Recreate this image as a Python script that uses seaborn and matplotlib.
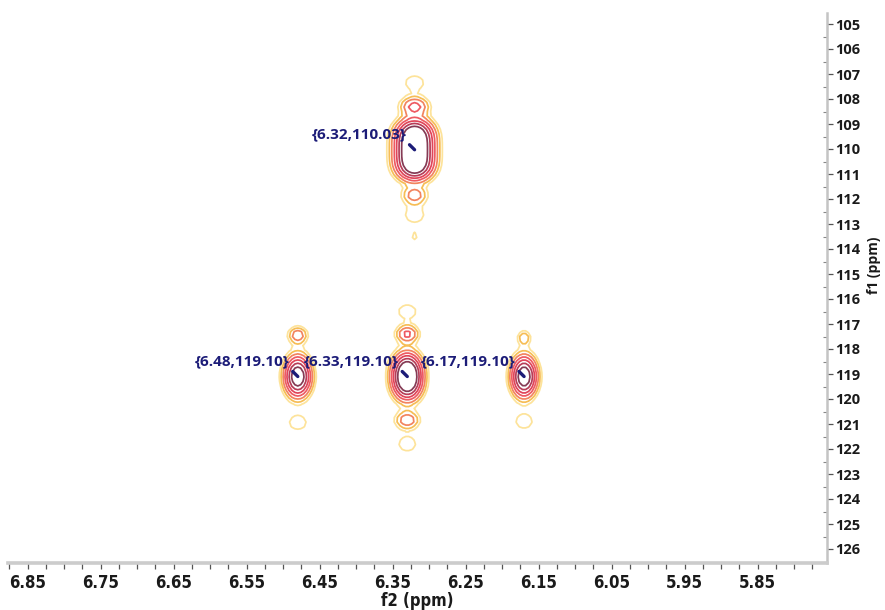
import numpy as np
import pandas as pd
import matplotlib
matplotlib.use("Agg")
import matplotlib.pyplot as plt
from matplotlib import font_manager as fm
from matplotlib.ticker import MultipleLocator, FixedLocator
import seaborn as sns

# ---------------- data ----------------
# main cross peaks (f2 ppm, f1 ppm), relative intensity, widths (ppm), line-shape exponents
peak_f2 = [6.32, 6.48, 6.33, 6.17]
peak_f1 = [110.03, 119.10, 119.10, 119.10]
peak_amp = [1.4, 1.0, 1.3, 1.0]
peak_wx = [0.0158, 0.0112, 0.0125, 0.0108]
peak_wy = [0.88, 0.5, 0.57, 0.5]
peak_px = [2.0, 2.0, 2.0, 2.0]
peak_py = [3.5, 2.0, 2.2, 2.0]
peak_labels = ["{6.32,110.03}", "{6.48,119.10}", "{6.33,119.10}", "{6.17,119.10}"]

# t1-noise satellites above / below each cross peak
sat_f2 = [6.32, 6.32, 6.32, 6.32, 6.32,
          6.48, 6.48,
          6.33, 6.33, 6.33, 6.33,
          6.17, 6.17]
sat_f1 = [108.3, 107.35, 111.85, 112.65, 113.5,
          117.45, 120.95,
          117.4, 116.5, 120.85, 121.8,
          117.55, 120.9]
sat_amp = [0.36, 0.12, 0.26, 0.12, 0.1,
           0.28, 0.12,
           0.34, 0.12, 0.28, 0.12,
           0.2, 0.12]
sat_wx = [0.013, 0.0135, 0.012, 0.0135, 0.005,
          0.009, 0.0125,
          0.0105, 0.013, 0.0115, 0.0125,
          0.0065, 0.012]
sat_wy = [0.25, 0.3, 0.25, 0.3, 0.2,
          0.23, 0.29,
          0.23, 0.29, 0.24, 0.3,
          0.2, 0.29]

levels = [0.08, 0.13, 0.2, 0.3, 0.42, 0.57, 0.75]
level_colors = ["#fde39a", "#f6bd55", "#f2845f", "#ee5a62", "#e04559",
                "#b73d58", "#853b55"]

x_ticks = [6.85, 6.75, 6.65, 6.55, 6.45, 6.35, 6.25, 6.15, 6.05, 5.95, 5.85]
y_ticks = list(range(105, 127))

# ---------------- build the 2D spectrum ----------------
main = pd.DataFrame({"f2": peak_f2, "f1": peak_f1, "amp": peak_amp,
                     "wx": peak_wx, "wy": peak_wy, "px": peak_px, "py": peak_py})
sats = pd.DataFrame({"f2": sat_f2, "f1": sat_f1, "amp": sat_amp,
                     "wx": sat_wx, "wy": sat_wy})
sats["px"] = 2.0
sats["py"] = 2.0
peaks = pd.concat([main, sats], ignore_index=True)

g2 = np.arange(5.70, 6.90, 0.004)
g1 = np.arange(104.0, 127.0, 0.18)
F2, F1 = np.meshgrid(g2, g1)
Z = np.zeros_like(F2)
for _, p in peaks.iterrows():
    Z += p.amp * np.exp(-0.5 * (np.abs((F2 - p.f2) / p.wx) ** p.px
                                + np.abs((F1 - p.f1) / p.wy) ** p.py))

# ---------------- fonts ----------------
def pick_condensed():
    best = None
    for f in fm.fontManager.ttflist:
        cond = ("Narrow" in f.name or "Condensed" in f.name
                or str(f.stretch) in ("condensed", "semi-condensed", "extra-condensed")
                or "Condensed" in f.fname or "Narrow" in f.fname)
        if not cond:
            continue
        w = f.weight if isinstance(f.weight, int) else (700 if "bold" in str(f.weight).lower() else 400)
        score = -abs(w - 700)
        if best is None or score > best[0]:
            best = (score, f.fname)
    return best[1] if best else None

cond_file = pick_condensed()
if cond_file:
    xfont = fm.FontProperties(fname=cond_file, size=12)
else:
    xfont = fm.FontProperties(family="Open Sans", weight="bold", size=10)

sns.set_theme(style="white")
plt.rcParams["font.family"] = ["Open Sans", "DejaVu Sans"]

fig = plt.figure(figsize=(8.85, 6.1), dpi=100)
ax = fig.add_axes([8 / 885, 47 / 610, 819 / 885, 550 / 610])

ax.contour(F2, F1, Z, levels=levels, colors=level_colors, linewidths=1.25)

ax.set_xlim(6.877, 5.755)
ax.set_ylim(126.56, 104.56)

for s in ["top", "left"]:
    ax.spines[s].set_visible(False)
ax.spines["bottom"].set_color("#cccccc")
ax.spines["bottom"].set_linewidth(2.6)
ax.spines["right"].set_color("#c4c4c4")
ax.spines["right"].set_linewidth(1.8)

ax.xaxis.set_major_locator(FixedLocator(x_ticks))
ax.set_xticklabels([f"{v:.2f}" for v in x_ticks], fontproperties=xfont, color="#1a1a1a")
ax.xaxis.set_minor_locator(MultipleLocator(0.025))
ax.tick_params(axis="x", which="both", bottom=True, direction="out",
               length=4, width=0.9, color="#555555", pad=4)

ax.yaxis.tick_right()
ax.yaxis.set_label_position("right")
ax.set_yticks(y_ticks)
ax.set_yticklabels([str(v) for v in y_ticks], fontweight="bold",
                   fontsize=10.5, color="#1a1a1a")
ax.yaxis.set_minor_locator(MultipleLocator(0.5))
ax.tick_params(axis="y", which="major", right=True, direction="out",
               length=4, width=0.9, color="#555555", pad=2)
ax.tick_params(axis="y", which="minor", right=True, direction="in",
               length=3, width=0.8, color="#888888")

ax.set_xlabel("f2 (ppm)", fontproperties=xfont, color="#1a1a1a", labelpad=0)
ax.set_ylabel("f1 (ppm)", fontweight="bold", fontsize=10, color="#1a1a1a")
ax.yaxis.set_label_coords(1.049, 0.542)

for x, y, lab in zip(peak_f2, peak_f1, peak_labels):
    ax.annotate(lab, xy=(x, y), xytext=(-6, 11), textcoords="offset points",
                ha="right", va="center", fontsize=11, fontweight="bold",
                color="#1c1c78",
                arrowprops=dict(arrowstyle="-", color="#1c1c78", lw=2.4,
                                relpos=(0.97, 0.2), shrinkA=0, shrinkB=0))

fig.savefig("out.png", dpi=100)
